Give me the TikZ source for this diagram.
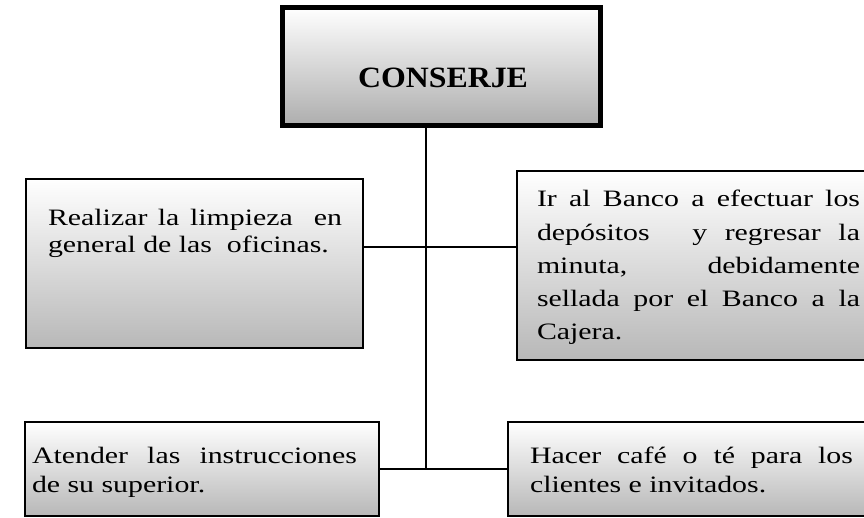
\documentclass[tikz,border=0pt]{standalone}
\usepackage{fontspec}
\setmainfont{Liberation Serif}[FakeStretch=1.27]
\newfontfamily\headfont{Liberation Serif}[FakeStretch=1.08]
\begin{document}
\begin{tikzpicture}[x=1pt,y=-1pt,
  box/.style={draw=black, line width=2pt, inner sep=0pt, outer sep=0pt,
    anchor=north west, top color=white, middle color=black!8, bottom color=black!28},
  headbox/.style={box, line width=5pt, middle color=black!7, bottom color=black!32},
  txt/.style={inner sep=0pt, outer sep=0pt, anchor=base west},
  headtxt/.style={inner sep=0pt, anchor=base, font=\headfont\fontsize{29.5}{34}\selectfont\bfseries},
  conn/.style={draw=black, line width=2pt}]
\useasboundingbox (0,0) rectangle (864,518);
\clip (0,0) rectangle (864,518);
% boxes
\node[headbox, minimum width=318pt, minimum height=118pt] (top) at (282.5,7.5) {};
\node[box, minimum width=337pt, minimum height=169pt] (L1) at (26,179) {};
\node[box, minimum width=400pt, minimum height=189pt] (R1) at (517,171) {};
\node[box, minimum width=354pt, minimum height=94pt] (L2) at (25,422) {};
\node[box, minimum width=400pt, minimum height=94pt] (R2) at (508,422) {};
% texts
\node[headtxt] (tTop) at (443,88) {CONSERJE};
\node[txt, font=\fontsize{23.5}{27}\selectfont] (tL1) at (48,226) {\parbox[t]{294pt}{\makebox[294pt][s]{Realizar la limpieza\ \ en}\\general de las\ \ oficinas.}};
\node[txt, font=\fontsize{23.5}{33.2}\selectfont] (tR1) at (537,207) {\parbox[t]{323pt}{\makebox[323pt][s]{Ir al Banco a efectuar los}\\\makebox[323pt][s]{depósitos\hspace{25pt} y regresar la}\\\makebox[323pt][s]{minuta, debidamente}\\\makebox[323pt][s]{sellada por el Banco a la}\\Cajera.}};
\node[txt, font=\fontsize{23.5}{29}\selectfont] (tL2) at (32,463) {\parbox[t]{325pt}{\makebox[325pt][s]{Atender las instrucciones}\\de su superior.}};
\node[txt, font=\fontsize{23.5}{29}\selectfont] (tR2) at (530,463) {\parbox[t]{323pt}{\makebox[323pt][s]{Hacer café o té para los}\\clientes e invitados.}};
% connectors
\coordinate (jL) at (426,247);
\coordinate (jB) at (426,469);
\draw[conn] (top.south -| jB) -- (jB);
\draw[conn] (L1.east |- jL) -- (jL) -- (R1.west |- jL);
\draw[conn] (L2.east |- jB) -- (R2.west |- jB);
\end{tikzpicture}
\end{document}
